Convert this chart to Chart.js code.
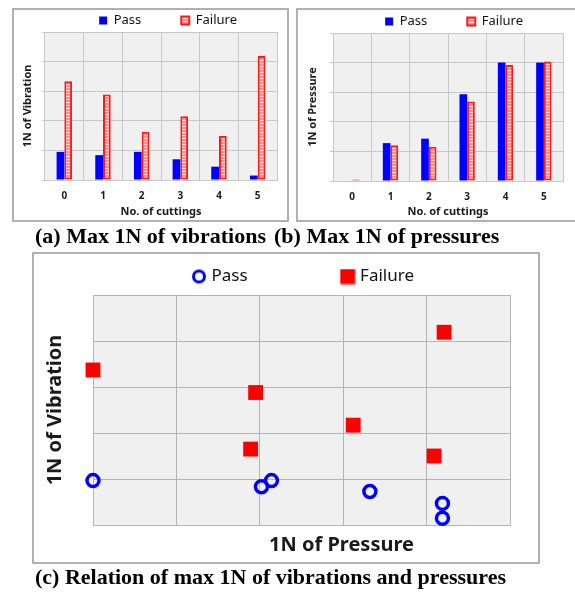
<!DOCTYPE html>
<html>
<head>
<meta charset="utf-8">
<script src="https://cdn.jsdelivr.net/npm/chart.js@4.4.0/dist/chart.umd.min.js"></script>
<style>
  body { margin: 0; background: #fff; width: 575px; height: 593px; position: relative; overflow: hidden; }
  .box { position: absolute; border: 2px solid #b0b0b0; box-sizing: border-box; background: #fff; }
  canvas { position: absolute; }
  .cap { position: absolute; font: bold 22px 'Liberation Serif', serif; color: #000; white-space: nowrap; line-height: 22px; }
</style>
</head>
<body>
<div class="box" style="left:12px;top:8px;width:277px;height:214px"></div>
<div class="box" style="left:296px;top:8px;width:290px;height:214px"></div>
<div class="box" style="left:32px;top:252px;width:508px;height:312px"></div>
<canvas id="chartA" width="274" height="247" style="left:13px;top:-26px"></canvas>
<canvas id="chartB" width="275" height="246" style="left:298px;top:-25px"></canvas>
<canvas id="chartC" width="504" height="390" style="left:34px;top:172px"></canvas>
<div class="cap" style="left:35px;top:225px">(a) Max 1N of vibrations</div>
<div class="cap" style="left:274px;top:225px">(b) Max 1N of pressures</div>
<div class="cap" style="left:35px;top:566px">(c) Relation of max 1N of vibrations and pressures</div>
<script>
// (a) and (b): per number of cuttings
const cuttings = ['0', '1', '2', '3', '4', '5'];
const vibPass = [0.95, 0.84, 0.95, 0.70, 0.45, 0.15];
const vibFail = [3.34, 2.89, 1.63, 2.15, 1.49, 4.19];
const presPass = [0, 1.28, 1.43, 2.93, 4.00, 4.00];
const presFail = [0.05, 1.21, 1.16, 2.69, 3.92, 4.04];

// (c): pressure (x) vs vibration (y)
const passPres = [0, 2.02, 2.14, 3.32, 4.19, 4.19];
const passVib = [0.965, 0.83, 0.965, 0.73, 0.47, 0.145];
const failPres = [0, 1.95, 1.89, 3.12, 4.09, 4.21];
const failVib = [3.37, 2.88, 1.65, 2.17, 1.50, 4.19];

Chart.defaults.font.family = "'Noto Sans', sans-serif";
Chart.defaults.color = '#1a1a1a';
Chart.defaults.animation = false;

// grey plot background
const plotBg = {
    id: 'plotBg',
    beforeDraw(chart) {
        const {ctx, chartArea: a} = chart;
        ctx.save();
        ctx.fillStyle = '#f0f0f0';
        ctx.fillRect(a.left, a.top, a.width, a.height);
        ctx.restore();
    }
};

function stripes(ctx) {
    const c = document.createElement('canvas');
    c.width = 4;
    c.height = 3;
    const g = c.getContext('2d');
    g.fillStyle = '#ff8c8c';
    g.fillRect(0, 0, 4, 3);
    g.fillStyle = '#ffe4e4';
    g.fillRect(0, 2, 4, 1);
    return ctx.createPattern(c, 'repeat');
}

function barChart(id, yTitle, pass, fail, yw, xh, padRight) {
    let ctx = document.getElementById(id).getContext('2d');
    return new Chart(ctx, {
        type: 'bar',
        data: {
            labels: cuttings,
            datasets: [
                {label: 'Pass', data: pass, backgroundColor: '#0000ff', borderWidth: 0},
                {label: 'Failure', data: fail, backgroundColor: stripes(ctx), borderColor: '#ff1a1a', borderWidth: 2, borderSkipped: false}
            ]
        },
        options: {
            responsive: false,
            datasets: {bar: {categoryPercentage: 0.4, barPercentage: 1.0}},
            layout: {padding: {right: padRight}},
            plugins: {
                legend: {align: 'end', maxHeight: 58, labels: {boxWidth: 8, boxHeight: 8, padding: 40, font: {size: 13}, color: '#111'}},
                tooltip: {enabled: false}
            },
            scales: {
                x: {
                    grid: {color: '#c8c8c8', drawTicks: false, offset: true},
                    border: {color: '#c8c8c8'},
                    ticks: {padding: 10, font: {size: 10, weight: 'bold'}},
                    title: {display: true, text: 'No. of cuttings', font: {size: 11, weight: 'bold'}, padding: {top: 0, bottom: 3}},
                    afterFit: s => { s.height = xh; }
                },
                y: {
                    min: 0, max: 5,
                    ticks: {display: false, stepSize: 1},
                    grid: {color: '#c8c8c8', tickLength: 3},
                    border: {display: false},
                    title: {display: true, text: yTitle, font: {size: 11, weight: 'bold'}, padding: {top: 8, bottom: 0}},
                    afterFit: s => { s.width = yw; }
                }
            }
        },
        plugins: [plotBg]
    });
}

barChart('chartA', '1N of Vibration', vibPass, vibFail, 32, 41, 10);
barChart('chartB', '1N of Pressure', presPass, presFail, 35, 40, 10);

// legend markers for (c)
function markCanvas(draw) {
    const c = document.createElement('canvas');
    c.width = 16;
    c.height = 16;
    draw(c.getContext('2d'));
    return c;
}
const legendMarks = [
    markCanvas(g => { g.strokeStyle = '#0000ff'; g.lineWidth = 3; g.beginPath(); g.arc(8, 8, 5.5, 0, Math.PI * 2); g.stroke(); }),
    markCanvas(g => { g.fillStyle = '#ff0000'; g.fillRect(0.5, 0.5, 15, 15); })
];

let ctxC = document.getElementById('chartC').getContext('2d');
new Chart(ctxC, {
    type: 'scatter',
    data: {
        datasets: [
            {
                label: 'Pass',
                data: passPres.map((x, i) => ({x: x, y: passVib[i]})),
                pointStyle: 'circle', pointRadius: 6, pointBorderWidth: 3.5,
                pointBorderColor: '#0000ff', pointBackgroundColor: 'rgba(0,0,0,0)', clip: false
            },
            {
                label: 'Failure',
                data: failPres.map((x, i) => ({x: x, y: failVib[i]})),
                pointStyle: 'rect', pointRadius: 10.5, pointBorderWidth: 0,
                pointBackgroundColor: '#ff0000', clip: false
            }
        ]
    },
    options: {
        responsive: false,
        layout: {padding: {right: 28}},
        plugins: {
            legend: {
                align: 'end',
                labels: {
                    usePointStyle: true, pointStyleWidth: 8, padding: 96, font: {size: 17}, color: '#111',
                    generateLabels: chart => Chart.defaults.plugins.legend.labels.generateLabels(chart)
                        .map((it, i) => Object.assign(it, {pointStyle: legendMarks[i]}))
                }
            },
            tooltip: {enabled: false}
        },
        scales: {
            x: {
                min: 0, max: 5,
                ticks: {display: false, stepSize: 1},
                grid: {color: '#b4b4b4', drawTicks: false},
                border: {color: '#b4b4b4'},
                title: {display: true, text: '\u2003\u2003\u2003\u20031N of Pressure', font: {size: 20, weight: 'bold'}, padding: {top: 0, bottom: 5}},
                afterFit: s => { s.height = 37; }
            },
            y: {
                min: 0, max: 5,
                ticks: {display: false, stepSize: 1},
                grid: {color: '#b4b4b4', drawTicks: false},
                border: {color: '#b4b4b4'},
                title: {display: true, text: '1N of Vibration', font: {size: 20, weight: 'bold'}, padding: {top: 9, bottom: 0}},
                afterFit: s => { s.width = 59; }
            }
        }
    },
    plugins: [plotBg]
});
</script>
</body>
</html>
